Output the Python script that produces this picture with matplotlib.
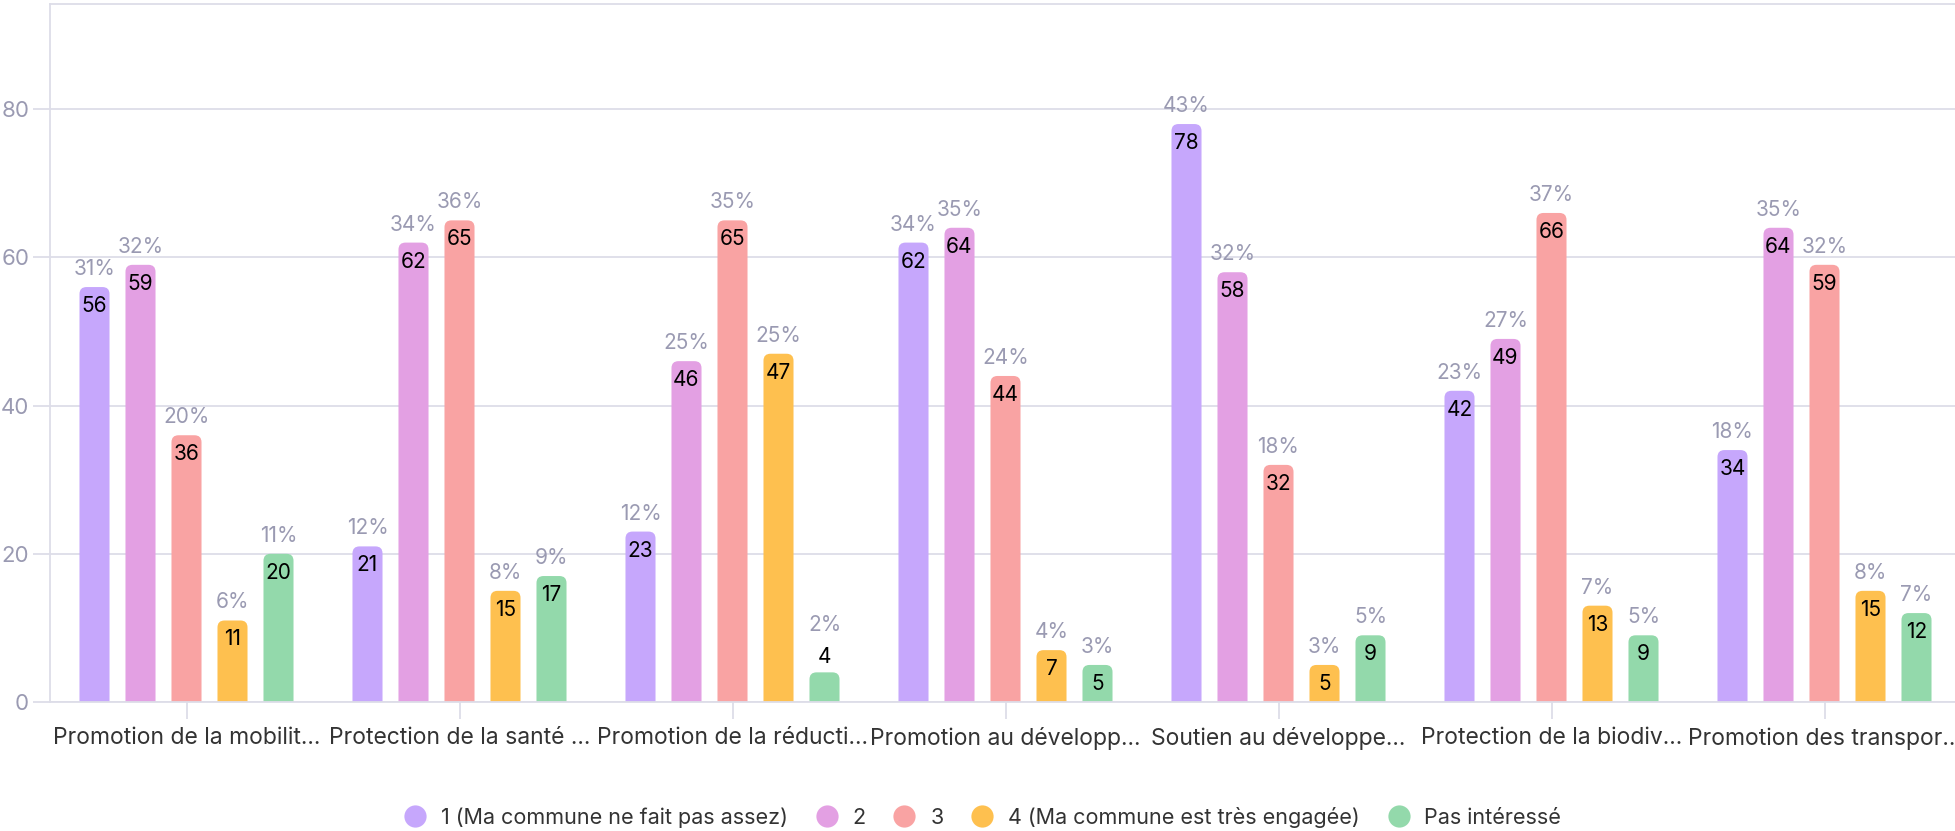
import matplotlib
matplotlib.use("Agg")
import matplotlib.pyplot as plt
from matplotlib.patches import FancyBboxPatch
from matplotlib.lines import Line2D
import numpy as np

plt.rcParams['font.family'] = ['Inter', 'DejaVu Sans']

categories = [
    "Promotion de la mobilit...",
    "Protection de la santé ...",
    "Promotion de la réducti...",
    "Promotion au développ...",
    "Soutien au développe...",
    "Protection de la biodiv...",
    "Promotion des transpor...",
]
series_names = [
    "1 (Ma commune ne fait pas assez)",
    "2",
    "3",
    "4 (Ma commune est très engagée)",
    "Pas intéressé",
]
s1 = [56, 21, 23, 62, 78, 42, 34]
s2 = [59, 62, 46, 64, 58, 49, 64]
s3 = [36, 65, 65, 44, 32, 66, 59]
s4 = [11, 15, 47, 7, 5, 13, 15]
s5 = [20, 17, 4, 5, 9, 9, 12]
p1 = [31, 12, 12, 34, 43, 23, 18]
p2 = [32, 34, 25, 35, 32, 27, 35]
p3 = [20, 36, 35, 24, 18, 37, 32]
p4 = [6, 8, 25, 4, 3, 7, 8]
p5 = [11, 9, 2, 3, 5, 5, 7]
yticks = [0, 20, 40, 60, 80]

series = [s1, s2, s3, s4, s5]
percents = [p1, p2, p3, p4, p5]
colors = ["#C6A7FC", "#E3A0E3", "#F9A3A3", "#FEC04F", "#93D9AB"]

W, H = 1955, 831
fig = plt.figure(figsize=(W / 100, H / 100), dpi=100)
ax = fig.add_axes([50 / W, (H - 702) / H, 1911 / W, (702 - 4) / H])
ax.set_xlim(-0.5, 6.5)
ax.set_ylim(0, 94.2)

grid_c = "#DDDDE8"
ax.set_yticks(yticks)
ax.yaxis.grid(True, color=grid_c, linewidth=1.3)
ax.set_axisbelow(True)
ax.spines["right"].set_visible(False)
for s in ["left", "top", "bottom"]:
    ax.spines[s].set_color(grid_c)
    ax.spines[s].set_linewidth(1.3)
ax.tick_params(axis="y", colors=grid_c, length=12, width=1.3, labelsize=16, labelcolor="#9A9AB2", pad=3)
ax.tick_params(axis="x", colors=grid_c, length=12, width=1.3, labelsize=16.5, labelcolor="#333333", pad=6)

x = np.arange(len(categories))
ax.set_xticks(x)
ax.set_xticklabels(categories)

step = 0.1685
bw = 0.11
rx = 7 / 273
ry = 7 / 7.41
for i, (vals, pcts, col) in enumerate(zip(series, percents, colors)):
    off = (i - 2) * step
    bars = ax.bar(x + off, vals, width=bw, color=col, zorder=2)
    for r, v, p in zip(bars, vals, pcts):
        bx, by, bwid, bh = r.get_x(), r.get_y(), r.get_width(), r.get_height()
        fp = FancyBboxPatch((bx, by - 3 * ry), bwid, bh + 3 * ry,
                            boxstyle=f"round,pad=0,rounding_size={rx}",
                            mutation_aspect=ry / rx, fc=col, ec="none", zorder=2)
        ax.add_patch(fp)
        r.set_visible(False)
        cx = bx + bwid / 2
        if v >= 5:
            ax.annotate(str(v), (cx, v), xytext=(0, -19), textcoords="offset pixels",
                        ha="center", va="center", fontsize=15, color="#000000", zorder=3)
            ax.annotate(f"{p}%", (cx, v), xytext=(0, 18), textcoords="offset pixels",
                        ha="center", va="center", fontsize=15, color="#9A9AB2", zorder=3)
        else:
            ax.annotate(str(v), (cx, v), xytext=(0, 15), textcoords="offset pixels",
                        ha="center", va="center", fontsize=15, color="#000000", zorder=3)
            ax.annotate(f"{p}%", (cx, v), xytext=(0, 47), textcoords="offset pixels",
                        ha="center", va="center", fontsize=15, color="#9A9AB2", zorder=3)

handles = [Line2D([0], [0], marker="o", linestyle="none", markersize=16,
                  markerfacecolor=c, markeredgecolor="none") for c in colors]
fig.legend(handles, series_names, loc="center", bbox_to_anchor=(0.5, (H - 817) / H),
           ncol=5, frameon=False, fontsize=15.5, handletextpad=0.2, columnspacing=0.8,
           labelcolor="#333333")

fig.savefig("out.png", dpi=100)
